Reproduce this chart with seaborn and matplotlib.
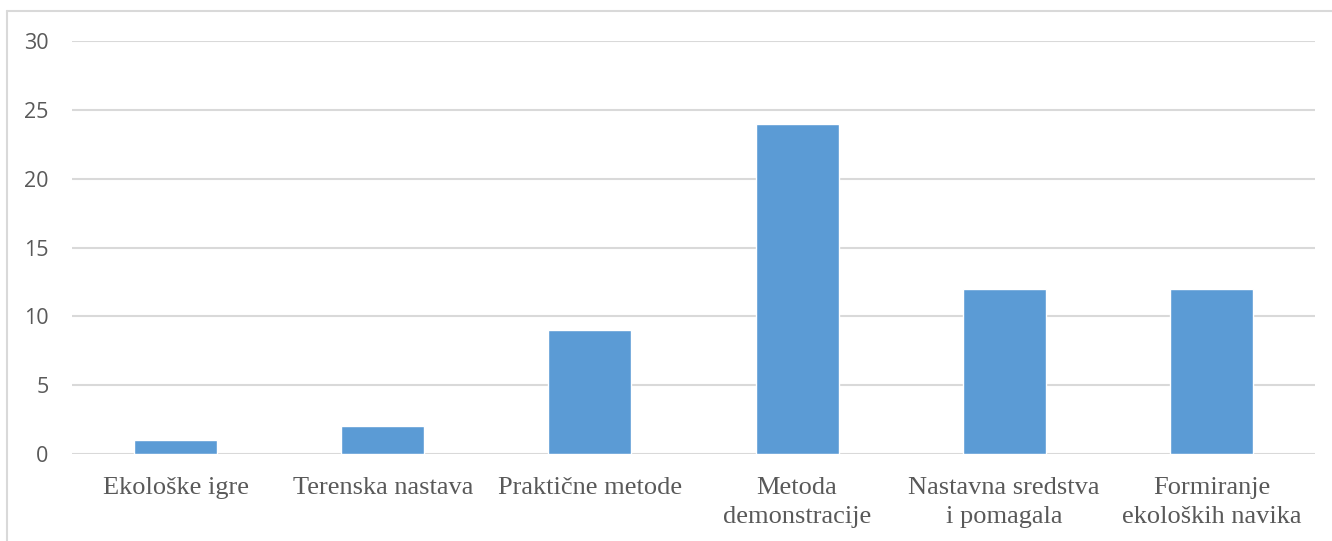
import matplotlib
matplotlib.use("Agg")
import matplotlib.pyplot as plt
import seaborn as sns
import pandas as pd
from matplotlib.lines import Line2D

categories = ["Ekološke igre", "Terenska nastava", "Praktične metode",
              "Metoda\ndemonstracije", "Nastavna sredstva\ni pomagala",
              "Formiranje\nekoloških navika"]
values = [1, 2, 9, 24, 12, 12]
yticks = [0, 5, 10, 15, 20, 25, 30]

df = pd.DataFrame({"cat": categories, "val": values})

sns.set_theme(style="white")
fig = plt.figure(figsize=(13.32, 5.41), dpi=100)
ax = fig.add_axes([72/1332, 1-454/541, (1315-72)/1332, (454-41)/541])

sns.barplot(data=df, x="cat", y="val", color="#5B9BD5", saturation=1,
            width=0.4, ax=ax, zorder=3)

ax.set_ylim(0, 30)
ax.set_xlim(-0.5, 5.5)
ax.set_yticks(yticks)
ax.yaxis.grid(True, color="#D9D9D9", linewidth=1.5, zorder=0)
ax.xaxis.grid(False)
for s in ax.spines.values():
    s.set_visible(False)
ax.set_xlabel("")
ax.set_ylabel("")
ax.tick_params(axis="y", length=0, pad=17, labelsize=15.5, labelcolor="#595959")
ax.tick_params(axis="x", length=0, pad=16.5, labelsize=19, labelcolor="#595959")
for t in ax.get_yticklabels():
    t.set_fontfamily("Open Sans")
for t in ax.get_xticklabels():
    t.set_fontfamily("Liberation Serif")
    t.set_linespacing(1.4)

# outer chart border (top and left visible)
fig.add_artist(Line2D([7/1332, 7/1332], [0, 1-11/541], transform=fig.transFigure,
                      color="#D9D9D9", linewidth=1.5))
fig.add_artist(Line2D([7/1332, 1], [1-11/541, 1-11/541], transform=fig.transFigure,
                      color="#D9D9D9", linewidth=1.5))

fig.savefig("out.png", dpi=100, facecolor="white")
